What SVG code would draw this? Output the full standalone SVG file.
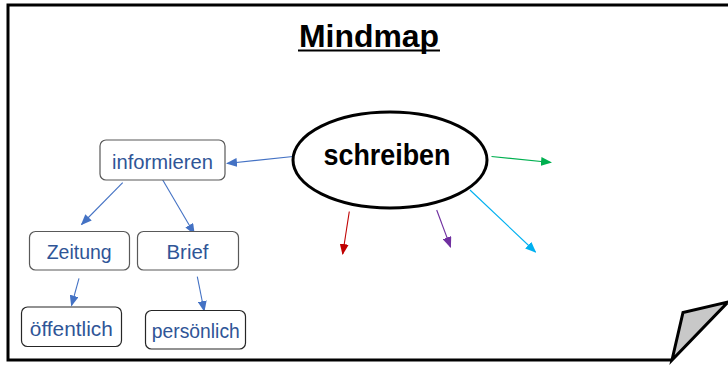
<svg xmlns="http://www.w3.org/2000/svg" width="728" height="365" viewBox="0 0 728 365">
<style>
.box{fill:#fff;stroke:#595959;stroke-width:1.2}
.box2{fill:#fff;stroke:#262626;stroke-width:1.2}
.lbl{font-family:"Liberation Sans",Arial,sans-serif;font-size:20.5px;fill:#2F5597;text-anchor:middle}
.c{fill:none;stroke-width:1.1}
</style>
<defs>
<marker id="mb" markerWidth="11" markerHeight="9" refX="10" refY="4.5" orient="auto" markerUnits="userSpaceOnUse"><path d="M0,0 L11,4.5 L0,9 Z" fill="#4472C4"/></marker>
<marker id="mg" markerWidth="11" markerHeight="9" refX="10" refY="4.5" orient="auto" markerUnits="userSpaceOnUse"><path d="M0,0 L11,4.5 L0,9 Z" fill="#00B050"/></marker>
<marker id="mr" markerWidth="11" markerHeight="9" refX="10" refY="4.5" orient="auto" markerUnits="userSpaceOnUse"><path d="M0,0 L11,4.5 L0,9 Z" fill="#C00000"/></marker>
<marker id="mp" markerWidth="11" markerHeight="9" refX="10" refY="4.5" orient="auto" markerUnits="userSpaceOnUse"><path d="M0,0 L11,4.5 L0,9 Z" fill="#7030A0"/></marker>
<marker id="mc" markerWidth="11" markerHeight="9" refX="10" refY="4.5" orient="auto" markerUnits="userSpaceOnUse"><path d="M0,0 L11,4.5 L0,9 Z" fill="#00B0F0"/></marker>
</defs>
<rect width="728" height="365" fill="#fff"/>
<g id="frame">
<path d="M728,5 L8,5 L8,360 L672,360" fill="none" stroke="#000" stroke-width="3"/>
<path d="M672,360 L683,312.5 L728,302 Z" fill="#c8c8c8" stroke="#000" stroke-width="3" stroke-linejoin="miter"/>
</g>
<g id="title">
<text x="369" y="47" font-family="'Liberation Sans',Arial,sans-serif" font-size="31" font-weight="bold" text-anchor="middle" textLength="140" lengthAdjust="spacingAndGlyphs">Mindmap</text>
<line x1="298" y1="50.5" x2="440" y2="50.5" stroke="#000" stroke-width="2"/>
</g>
<g id="connectors">
<line class="c" x1="293" y1="156.5" x2="227" y2="163.5" stroke="#4472C4" marker-end="url(#mb)"/>
<line class="c" x1="491.5" y1="156.5" x2="551" y2="162.5" stroke="#00B050" marker-end="url(#mg)"/>
<line class="c" x1="349.3" y1="211.5" x2="342.7" y2="254" stroke="#C00000" marker-end="url(#mr)"/>
<line class="c" x1="436.7" y1="210" x2="450.5" y2="247" stroke="#7030A0" marker-end="url(#mp)"/>
<line class="c" x1="470" y1="190" x2="535.5" y2="252" stroke="#00B0F0" marker-end="url(#mc)"/>
<line class="c" x1="122.7" y1="182.7" x2="81.5" y2="224.5" stroke="#4472C4" marker-end="url(#mb)"/>
<line class="c" x1="162.3" y1="179.3" x2="194.3" y2="233.8" stroke="#4472C4" marker-end="url(#mb)"/>
<line class="c" x1="79" y1="278.3" x2="71.5" y2="305.5" stroke="#4472C4" marker-end="url(#mb)"/>
<line class="c" x1="197.3" y1="276.7" x2="204.2" y2="311" stroke="#4472C4" marker-end="url(#mb)"/>
</g>
<g id="schreiben">
<ellipse cx="390" cy="160" rx="97" ry="48" fill="#fff" stroke="#000" stroke-width="3"/>
<text x="387" y="165" font-family="'Liberation Sans',Arial,sans-serif" font-size="30" font-weight="bold" text-anchor="middle" textLength="127" lengthAdjust="spacingAndGlyphs">schreiben</text>
</g>
<g id="informieren">
<rect class="box" x="100" y="140" width="125" height="40" rx="6"/>
<text class="lbl" x="162.5" y="169" textLength="101" lengthAdjust="spacingAndGlyphs">informieren</text>
</g>
<g id="zeitung">
<rect class="box" x="29.5" y="231.5" width="100" height="38.5" rx="6"/>
<text class="lbl" x="79.2" y="259" textLength="65" lengthAdjust="spacingAndGlyphs">Zeitung</text>
</g>
<g id="brief">
<rect class="box" x="137.5" y="231.5" width="101" height="38.5" rx="6"/>
<text class="lbl" x="187.5" y="259" textLength="42" lengthAdjust="spacingAndGlyphs">Brief</text>
</g>
<g id="oeffentlich">
<rect class="box2" x="21.5" y="307" width="100" height="39.5" rx="6"/>
<text class="lbl" x="71.3" y="336" textLength="83" lengthAdjust="spacingAndGlyphs">öffentlich</text>
</g>
<g id="persoenlich">
<rect class="box2" x="145.5" y="310.5" width="100" height="38.5" rx="6"/>
<text class="lbl" x="195.8" y="338" textLength="88" lengthAdjust="spacingAndGlyphs">persönlich</text>
</g>
</svg>
